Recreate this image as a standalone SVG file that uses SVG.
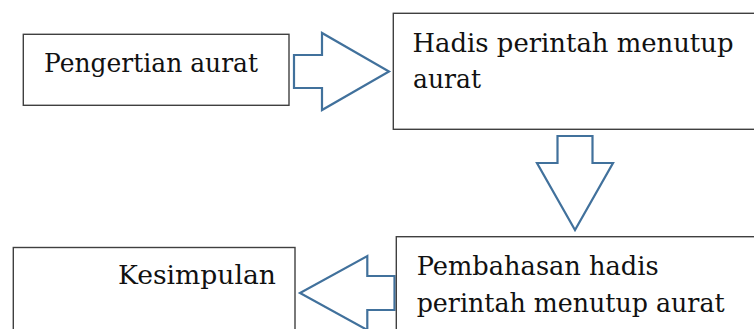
<svg xmlns="http://www.w3.org/2000/svg" width="754" height="329" viewBox="0 0 754 329">
<style>
.box{fill:#fff;stroke:#404040;stroke-width:1.4}
.arr{fill:#fff;stroke:#41719c;stroke-width:2.2;stroke-linejoin:miter}
text{font-family:"DejaVu Serif","Liberation Serif",serif;font-size:26px;fill:#111}
</style>
<rect width="754" height="329" fill="#fff"/>
<g id="connectors">
<polygon class="arr" points="294,55 322,55 322,33 389,71.5 322,110 322,88 294,88"/>
<polygon class="arr" points="557.5,136 592.5,136 592.5,163 613,163 575,230 537,163 557.5,163"/>
<polygon class="arr" points="394.5,276 367.3,276 367.3,256 300,293 367.3,330 367.3,310 394.5,310"/>
</g>
<g id="node-pengertian">
<rect class="box" x="23.3" y="34.3" width="265.7" height="71"/>
<text x="44" y="71.7" textLength="214" lengthAdjust="spacingAndGlyphs">Pengertian aurat</text>
</g>
<g id="node-hadis">
<rect class="box" x="393.3" y="13.3" width="370" height="116"/>
<text x="412.5" y="52.3" textLength="321" lengthAdjust="spacingAndGlyphs">Hadis perintah menutup</text>
<text x="413" y="88.3" textLength="68" lengthAdjust="spacingAndGlyphs">aurat</text>
</g>
<g id="node-pembahasan">
<rect class="box" x="396.3" y="236.7" width="370" height="110"/>
<text x="416.7" y="275" textLength="242" lengthAdjust="spacingAndGlyphs">Pembahasan hadis</text>
<text x="416.7" y="311.7" textLength="308" lengthAdjust="spacingAndGlyphs">perintah menutup aurat</text>
</g>
<g id="node-kesimpulan">
<rect class="box" x="13.3" y="247.5" width="281.7" height="100"/>
<text x="118" y="284.3" textLength="158" lengthAdjust="spacingAndGlyphs">Kesimpulan</text>
</g>
</svg>
